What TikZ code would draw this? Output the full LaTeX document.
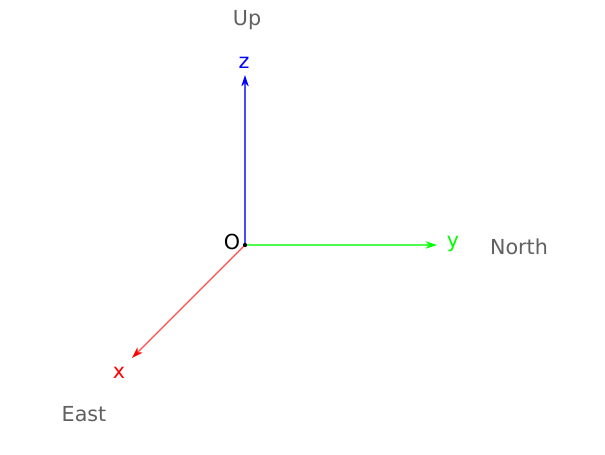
\documentclass[tikz,border=0pt]{standalone}
\usepackage{fontspec}
\setmainfont{DejaVu Sans}
\usepackage{xcolor}
\usepackage{tikz}
\usetikzlibrary{arrows.meta,positioning,calc}

\definecolor{dirgray}{RGB}{96,96,96}
\definecolor{axred}{RGB}{255,0,0}
\definecolor{axgreen}{RGB}{0,255,0}
\definecolor{axblue}{RGB}{0,0,255}

\begin{document}
\begin{tikzpicture}[x=0.75pt, y=-0.75pt,
  axis/.style={line width=1pt, draw=#1!70!white,
    -{Stealth[length=8.5pt, width=5.5pt, inset=2.5pt, color=#1]}},
  axlbl/.style={font=\fontsize{15.5}{18}\selectfont, inner sep=0pt},
  dirlbl/.style={font=\fontsize{15.5}{18}\selectfont, text=dirgray, inner sep=0pt}]

\useasboundingbox (0,0) rectangle (605,454);

% Origin and axis tips
\coordinate (o) at (245,245);
\coordinate (xtip) at (132,358);
\coordinate (ytip) at (437,245);
\coordinate (ztip) at (245,75);

% Axes
\draw[axis=axred] (o) -- (xtip);
\draw[axis=axgreen] (o) -- (ytip);
\draw[axis=axblue] (o) -- (ztip);
\fill (o) circle (1.6pt);

% Axis labels
\node[axlbl] (olbl) at (232,242) {O};
\node[axlbl, text=axred] (xlbl) at (119,373) {x};
\node[axlbl, text=axgreen] (ylbl) at (453,244) {y};
\node[axlbl, text=axblue] (zlbl) at (244,63) {z};

% Directions
\node[dirlbl] (east) at (84,414) {East};
\node[dirlbl] (north) at (519,247) {North};
\node[dirlbl] (up) at (247,20) {Up};

\end{tikzpicture}
\end{document}
